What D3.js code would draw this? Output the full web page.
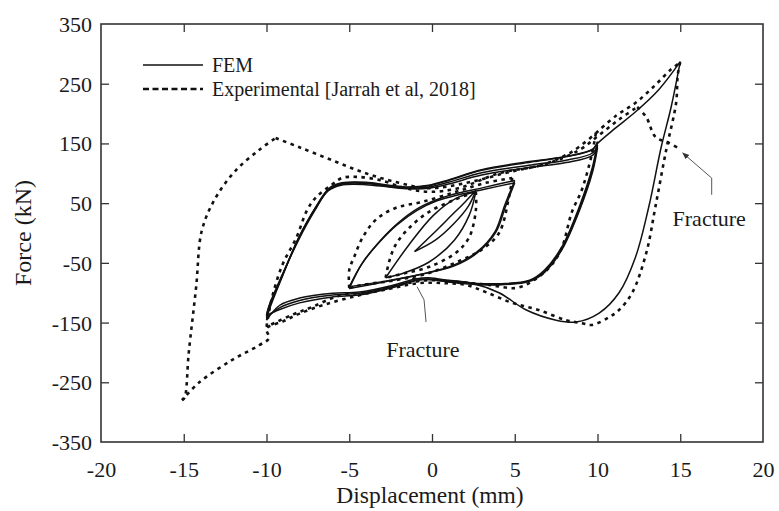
<!DOCTYPE html>
<html>
<head>
<meta charset="utf-8">
<script src="https://cdn.jsdelivr.net/npm/d3@7"></script>
<style>
  body { margin: 0; background: #fff; }
  svg text { font-family: "Liberation Serif", "Times New Roman", serif; fill: #1a1a1a; }
</style>
</head>
<body>
<script>
// axis ticks
var xTicks = [-20, -15, -10, -5, 0, 5, 10, 15, 20];
var yTicks = [-350, -250, -150, -50, 50, 150, 250, 350];

// FEM cycles, each = [loading branch, unloading branch], [displacement mm, force kN]
var fem2 = [
  [[-1.05,-31],[0,-3],[1.2,30],[2,52],[2.65,71]],
  [[2.65,71],[2.2,45],[1.3,15],[0.2,-12],[-1.05,-31]]
];
var fem3 = [
  [[-2.8,-75],[-1.4,-20],[0.1,30],[1.45,58],[2.65,69]],
  [[2.65,69],[2.25,30],[1.35,-12],[-0.2,-49],[-1.7,-67],[-2.8,-75]]
];
var fem5a = [
  [[-5,-93],[-4.2,-50],[-3.1,-12],[-2,18],[-0.8,42],[0.4,57],[1.6,67],[3.1,76],[5,88]],
  [[5,88],[4.4,47],[3.8,2],[2.7,-32],[1.3,-54],[-0.8,-70],[-2.9,-82],[-5,-93]]
];
var fem5b = [
  [[-5,-90],[-4.25,-52],[-3.2,-16],[-2.1,14],[-0.9,38],[0.3,54],[1.6,64],[3.1,73],[5,84]],
  [[5,84],[4.45,45],[3.85,1],[2.75,-33],[1.35,-55],[-0.8,-70],[-2.9,-81],[-5,-90]]
];
var fem10a = [
  [[-10,-146],[-9.85,-130],[-9.06,-74],[-8.04,-7],[-7,44],[-6.22,75],[-5.44,84],[-4,85],[-2.6,80],[-1.4,77],[-0.2,80],[1,89],[3,106],[6,120],[8.1,128],[9.7,140],[10,153]],
  [[10,153],[9.7,111],[8.9,44],[7.85,-23],[6.8,-62],[5.9,-79],[4,-85],[1.6,-82],[-0.2,-75],[-1,-77],[-2.3,-87],[-4.4,-99],[-6,-101],[-8,-109],[-9.2,-121],[-10,-146]]
];
var fem10b = [
  [[-10,-142],[-9.85,-126],[-9.05,-72],[-8.05,-9],[-7.05,41],[-6.25,72],[-5.45,82],[-4,83],[-2.6,78],[-1.4,75],[-0.2,77],[1,85],[3,101],[6,114],[8.1,122],[9.7,134],[10,147]],
  [[10,147],[9.7,106],[8.9,40],[7.85,-26],[6.8,-64],[5.9,-80],[4,-86],[1.6,-83],[-0.2,-77],[-1,-79],[-2.3,-89],[-4.4,-101],[-6,-104],[-8,-113],[-9.2,-125],[-10,-142]]
];
var fem10c = [
  [[-10,-138],[-9.85,-122],[-9.05,-70],[-8.05,-11],[-7.05,39],[-6.3,70],[-5.5,80],[-4,81],[-2.6,77],[-1.4,74],[-0.2,75],[1,82],[3,97],[6,110],[8.1,118],[9.7,130],[10,143]],
  [[10,143],[9.7,102],[8.9,37],[7.85,-28],[6.8,-66],[5.9,-81],[4,-87],[1.6,-84],[-0.2,-78],[-1,-80],[-2.3,-91],[-4.4,-104],[-6,-107],[-8,-117],[-9.2,-128],[-10,-138]]
];
var fem15 = [
  [[-10,-138],[-9.85,-124],[-9.05,-71],[-8.05,-8],[-7.05,42],[-6.25,73],[-5.45,83],[-4,84],[-2.6,79],[-1.4,76],[-0.2,79],[1,88],[3,105],[6,119],[8.1,128],[9.7,140],[10,150],[11.1,176],[12.3,203],[13.7,240],[15,287]],
  [[15,287],[14.45,211],[13.85,144],[13.1,44],[12.3,-40],[11.3,-100],[10.1,-134],[8.7,-149],[7.5,-146],[5.7,-129],[4.05,-100],[2.4,-84],[0.85,-79],[-0.8,-77],[-1.2,-76]]
];

// Experimental [Jarrah et al, 2018]
var exp3 = [
  [[-2.8,-75],[-2.6,-49],[-2.2,-20],[-1.4,8],[-0.2,35],[1.3,55],[2.65,69]],
  [[2.65,69],[2.65,38],[2.25,-7],[1.45,-33],[-0.2,-57],[-1.6,-67],[-2.8,-75]]
];
var exp5 = [
  [[-5,-92],[-5,-62],[-4.7,-40],[-4.2,-8],[-3.4,22],[-2.2,42],[-0.6,52],[1.45,69],[3.25,84],[4.85,92]],
  [[4.85,92],[4.65,60],[4.05,0],[3,-28],[1.8,-45],[-0.2,-67],[-2.2,-79],[-4.2,-87],[-5,-92]]
];
var exp10 = [
  [[-10,-157],[-9.7,-112],[-9.05,-54],[-8.2,-8],[-7.55,38],[-7,60],[-6.1,80],[-5.45,92],[-4.6,94],[-3.2,89],[-1.6,75],[-0.2,69],[1.6,75],[4.05,100],[6.65,114],[8.45,136],[9.9,167]],
  [[9.9,167],[9.65,131],[9.05,72],[8.45,35],[7.8,-28],[7.05,-59],[6.15,-79],[5.1,-92],[3.45,-87],[1.6,-82],[-0.2,-79],[-2,-87],[-3.8,-99],[-5.6,-105],[-7.25,-124],[-8.45,-137],[-10,-157]]
];
var exp15 = [
  [[9.9,167],[11.1,196],[12.3,218],[13.5,248],[14.4,273],[15,286]],
  [[15,286],[14.85,265],[14.75,218],[14.15,139],[13.5,44],[12.95,-33],[12.1,-100],[11.3,-129],[10.7,-141],[9.65,-154],[9.05,-151],[8.1,-146],[6.45,-129],[4.85,-117],[3.25,-99],[2.05,-87],[0.85,-84],[-0.8,-84],[-2.5,-93],[-4.5,-105],[-6.5,-120],[-8,-135],[-9,-148],[-10,-160],[-9.85,-176],[-10.45,-188],[-12.1,-213],[-14.1,-251],[-15.1,-280]]
];
var expFracture = [
  [[-15.1,-280],[-14.95,-276],[-14.7,-201],[-14.25,-90],[-13.9,5],[-13.05,60],[-11.85,105],[-10.45,139],[-9.45,159]],
  [[-9.45,159],[-8.05,144],[-6.05,122],[-4,100],[-2,84],[-0.2,75],[2.25,85],[4.65,102],[7.05,117],[8.9,139],[10.1,164],[11.3,190],[12.4,211]],
  [[12.4,211],[12.95,194],[13.5,161],[14.3,151],[14.9,142]]
];

// annotations: label position and leader line, in data units
var notes = [
  { label: "Fracture", at: [16.75, 11], line: [[16.9,64],[16.9,92],[15.15,134]], arrow: true },
  { label: "Fracture", at: [-0.55, -208], line: [[-0.36,-149],[-0.48,-112],[-0.9,-90]], arrow: false }
];

var femSeries = [fem2, fem3, fem5a, fem5b, fem10a, fem10b, fem10c, fem15];
var expSeries = [exp3, exp5, exp10, exp15, expFracture];

var W = 779, H = 511;
var margin = {top: 24, right: 16, bottom: 69, left: 101};
var w = W - margin.left - margin.right, h = H - margin.top - margin.bottom;

var svg = d3.select("body").append("svg").attr("width", W).attr("height", H);
var g = svg.append("g").attr("transform", "translate(" + margin.left + "," + margin.top + ")");

var x = d3.scaleLinear().domain([-20, 20]).range([0, w]);
var y = d3.scaleLinear().domain([-350, 350]).range([h, 0]);

var defs = svg.append("defs");
defs.append("clipPath").attr("id", "clip").append("rect").attr("width", w).attr("height", h);
defs.append("marker").attr("id", "arr").attr("viewBox", "0 0 10 10").attr("refX", 9).attr("refY", 5)
  .attr("markerWidth", 7).attr("markerHeight", 7).attr("orient", "auto")
  .append("path").attr("d", "M0,1L10,5L0,9Z").attr("fill", "#333");

// axes, ticks inward, plain hyphen for negatives
var fmt = function(d) { return String(d); };
var innerTicksX = xTicks.slice(1, -1), innerTicksY = yTicks.slice(1, -1);
var xb = g.append("g").attr("transform", "translate(0," + h + ")")
  .call(d3.axisBottom(x).tickValues(xTicks).tickSize(-8).tickPadding(19).tickFormat(fmt));
var xt = g.append("g").call(d3.axisTop(x).tickValues(innerTicksX).tickSize(-8).tickFormat(""));
var yl = g.append("g").call(d3.axisLeft(y).tickValues(yTicks).tickSize(-8).tickPadding(9).tickFormat(fmt));
var yr = g.append("g").attr("transform", "translate(" + w + ",0)")
  .call(d3.axisRight(y).tickValues(innerTicksY).tickSize(-8).tickFormat(""));
[xb, xt, yl, yr].forEach(function(a) {
  a.select(".domain").remove();
  a.selectAll(".tick line").attr("stroke", "#333").attr("stroke-width", 1.3);
  a.selectAll(".tick text").style("font-size", "22px").attr("fill", "#1a1a1a");
});
// corner ticks sit on the frame
xb.selectAll(".tick").filter(function(d) { return d === -20 || d === 20; }).select("line").remove();
yl.selectAll(".tick").filter(function(d) { return d === -350 || d === 350; }).select("line").remove();
yl.selectAll(".tick text").attr("dy", "0.34em");

g.append("rect").attr("width", w).attr("height", h)
  .attr("fill", "none").attr("stroke", "#333").attr("stroke-width", 1.6);

var line = d3.line().x(function(d) { return x(d[0]); }).y(function(d) { return y(d[1]); })
  .curve(d3.curveCatmullRom.alpha(0.5));

var plot = g.append("g").attr("clip-path", "url(#clip)");

var expBranches = [];
expSeries.forEach(function(s) { s.forEach(function(b) { expBranches.push(b); }); });
plot.selectAll("path.exp").data(expBranches).enter().append("path")
  .attr("class", "exp").attr("d", line)
  .attr("fill", "none").attr("stroke", "#111").attr("stroke-width", 2.6)
  .attr("stroke-dasharray", "3.5,4.5");

var femBranches = [];
femSeries.forEach(function(s) { s.forEach(function(b) { femBranches.push(b); }); });
plot.selectAll("path.fem").data(femBranches).enter().append("path")
  .attr("class", "fem").attr("d", line)
  .attr("fill", "none").attr("stroke", "#111").attr("stroke-width", 1.5);

// annotations
var noteLine = d3.line().x(function(d) { return x(d[0]); }).y(function(d) { return y(d[1]); });
notes.forEach(function(n) {
  var p = g.append("path").attr("d", noteLine(n.line)).attr("fill", "none")
    .attr("stroke", "#555").attr("stroke-width", 1);
  if (n.arrow) p.attr("marker-end", "url(#arr)");
  g.append("text").attr("x", x(n.at[0])).attr("y", y(n.at[1]))
    .attr("text-anchor", "middle").style("font-size", "22px").text(n.label);
});

// legend
var legend = g.append("g").attr("transform", "translate(42,41)");
var items = [{name: "FEM", dash: null}, {name: "Experimental [Jarrah et al, 2018]", dash: "6,3.5"}];
items.forEach(function(it, i) {
  var row = legend.append("g").attr("transform", "translate(0," + (i * 24) + ")");
  var l = row.append("line").attr("x1", 0).attr("x2", 60).attr("y1", 0).attr("y2", 0)
    .attr("stroke", "#111").attr("stroke-width", it.dash ? 2.4 : 1.6);
  if (it.dash) l.attr("stroke-dasharray", it.dash);
  row.append("text").attr("x", 69).attr("y", 0).attr("dy", "0.34em")
    .style("font-size", "20px").text(it.name);
});

// axis titles
svg.append("text").attr("x", margin.left + x(0) - 2).attr("y", 503)
  .attr("text-anchor", "middle").style("font-size", "23.5px").text("Displacement (mm)");
svg.append("text").attr("transform", "translate(31," + (margin.top + y(0)) + ") rotate(-90)")
  .attr("text-anchor", "middle").style("font-size", "24px").text("Force (kN)");
</script>
</body>
</html>
